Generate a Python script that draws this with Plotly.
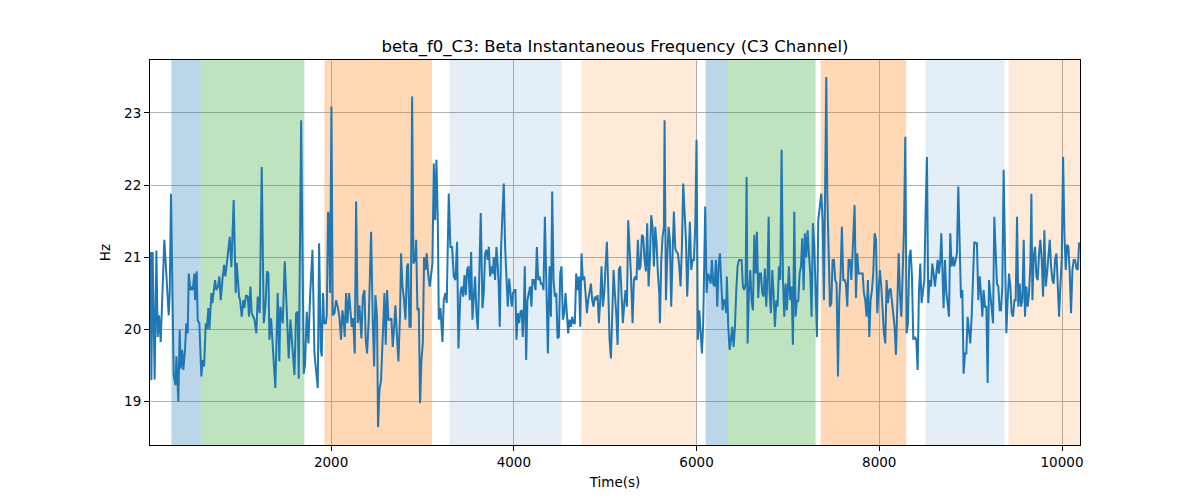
import plotly.graph_objects as go

# ---- data ----
time_s = [
    25, 33, 47, 69, 88, 102, 117, 135, 175, 212, 223, 234, 248, 277, 296, 307, 328, 343, 354, 369,
    383, 401, 416, 431, 442, 460, 474, 485, 504, 511, 529, 540, 558, 580, 595, 610, 628, 639, 657, 668,
    690, 701, 730, 745, 763, 777, 792, 814, 829, 843, 891, 909, 934, 956, 967, 993, 1004, 1022, 1040, 1051,
    1069, 1088, 1102, 1117, 1131, 1161, 1182, 1197, 1219, 1241, 1263, 1281, 1299, 1314, 1325, 1343, 1361, 1390, 1416, 1434,
    1445, 1471, 1493, 1515, 1536, 1555, 1573, 1599, 1617, 1635, 1646, 1672, 1701, 1715, 1734, 1752, 1770, 1796, 1818, 1836,
    1854, 1869, 1887, 1898, 1912, 1923, 1942, 1953, 1967, 1978, 1989, 2004, 2018, 2037, 2055, 2073, 2091,
    2109, 2124, 2138, 2149, 2164, 2179, 2197, 2211, 2226, 2241, 2259, 2274, 2292, 2310, 2332, 2347, 2365, 2379, 2394, 2412,
    2438, 2456, 2471, 2485, 2503, 2514, 2529, 2547, 2566, 2584, 2598, 2613, 2628, 2642, 2660, 2675, 2690, 2704, 2719, 2737,
    2755, 2766, 2781, 2795, 2814, 2832, 2843, 2858, 2872, 2887, 2901, 2920, 2931, 2945, 2960, 2974, 2989, 3004, 3018, 3033,
    3047, 3062, 3080, 3095, 3109, 3124, 3139, 3153, 3168, 3179,
    3197, 3219, 3233, 3251, 3266, 3288, 3306, 3324, 3343, 3361, 3379, 3394, 3416, 3430, 3445, 3460, 3474, 3489, 3503, 3518,
    3533, 3547, 3562, 3576, 3591, 3606, 3620, 3638, 3657, 3671, 3686, 3700, 3715, 3726, 3741, 3755, 3770, 3781, 3795, 3810,
    3825, 3835, 3846, 3861, 3876, 3890, 3905, 3919, 3934, 3949, 3963, 3978, 3992, 4007, 4018, 4029, 4044, 4058, 4073, 4087,
    4098, 4109, 4120, 4135, 4149, 4164, 4178, 4193, 4204, 4219,
    4238, 4252, 4267, 4282, 4296, 4311, 4325, 4340, 4355, 4373, 4391, 4406, 4420, 4435, 4449, 4464, 4479, 4493, 4508, 4522,
    4537, 4552, 4566, 4581, 4595, 4610, 4625, 4639, 4654, 4668, 4683, 4698, 4712, 4727, 4741, 4756, 4771, 4785, 4800, 4814,
    4829, 4844, 4858, 4873, 4887, 4902, 4917, 4931, 4946, 4960, 4975, 4990, 5004, 5019, 5033, 5048, 5063, 5077, 5092, 5106,
    5121, 5136, 5150, 5165, 5179, 5194, 5209, 5223, 5238, 5252,
    5281, 5300, 5314, 5329, 5343, 5358, 5373, 5387, 5402, 5416, 5431, 5446, 5460, 5475, 5489, 5504, 5519, 5533, 5548, 5562,
    5577, 5592, 5599, 5614, 5628, 5643, 5650, 5665, 5679, 5694, 5708, 5723, 5738, 5752, 5767, 5781, 5796, 5811, 5825, 5840,
    5854, 5869, 5884, 5898, 5913, 5927, 5942, 5957, 5971, 5986, 6000, 6015, 6030, 6044, 6059, 6073, 6088, 6095, 6110, 6125,
    6139, 6154, 6168, 6183, 6197, 6212, 6227, 6241, 6256, 6270, 6285, 6300,
    6310, 6325, 6332, 6347, 6362, 6376, 6391, 6405, 6420, 6435, 6449, 6464, 6478, 6493, 6508, 6522, 6537, 6548, 6559, 6573,
    6588, 6602, 6617, 6632, 6646, 6661, 6675, 6690, 6705, 6719, 6734, 6748, 6763, 6778, 6789, 6800, 6814, 6829, 6843, 6858,
    6873, 6887, 6902, 6916, 6931, 6946, 6960, 6975, 6989, 7004, 7011, 7026, 7040, 7055, 7070, 7084, 7099, 7113, 7128, 7143,
    7157, 7172, 7186, 7201, 7216, 7230, 7245, 7259, 7274, 7289, 7303, 7318, 7332,
    7365, 7380, 7394, 7409, 7420, 7431, 7445, 7460, 7475, 7489, 7504, 7518, 7533, 7548, 7562, 7577, 7591, 7606, 7621, 7635,
    7650, 7664, 7679, 7694, 7708, 7723, 7730, 7745, 7759, 7774, 7788, 7803, 7818, 7832, 7847, 7861, 7876, 7891, 7905, 7920,
    7934, 7949, 7964, 7978, 7993, 8007, 8022, 8037, 8051, 8066, 8080, 8095, 8110, 8124, 8139, 8153, 8168, 8183, 8197, 8212,
    8226, 8241, 8256, 8270, 8285, 8299, 8314, 8329, 8343, 8358, 8372,
    8390, 8405, 8420, 8434, 8449, 8463, 8478, 8493, 8507, 8522, 8536, 8551, 8566, 8580, 8595, 8609, 8624, 8639, 8653, 8668,
    8679, 8690, 8704, 8719, 8734, 8748, 8763, 8777, 8792, 8807, 8821, 8836, 8850, 8865, 8880, 8894, 8909, 8923, 8938, 8953,
    8967, 8982, 8996, 9011, 9026, 9040, 9055, 9069, 9084, 9099, 9113, 9128, 9142, 9157, 9172, 9186, 9201, 9215, 9230, 9245,
    9259, 9274, 9288, 9303, 9318, 9332, 9347, 9361, 9376, 9391, 9405, 9420,
    9435, 9449, 9464, 9479, 9493, 9508, 9522, 9537, 9552, 9566, 9581, 9595, 9610, 9625, 9639, 9654, 9665, 9676, 9690, 9705,
    9720, 9734, 9749, 9763, 9778, 9793, 9807, 9822, 9836, 9851, 9866, 9880, 9895, 9909, 9924, 9939, 9953, 9968, 9982, 9997,
    10012, 10026, 10041, 10055, 10070, 10085, 10099, 10114, 10128, 10143, 10158, 10172, 10187, 10194,
]

beta_f0_hz = [
    21.07, 19.29, 21.07, 19.30, 21.09, 19.89, 20.19, 19.82, 21.24, 20.33, 20.19, 20.50, 21.88, 19.36, 19.22, 19.62, 18.99, 19.99, 19.45, 19.71,
    19.43, 19.71, 20.08, 19.94, 20.77, 20.54, 20.59, 20.54, 20.77, 20.40, 20.80, 20.12, 20.08, 19.34, 19.57, 19.48, 20.08, 19.99, 20.29, 19.99,
    20.50, 20.36, 20.68, 20.54, 20.59, 20.73, 20.40, 20.73, 20.89, 20.73, 21.28, 20.86, 21.79, 20.50, 20.92, 20.45, 20.40, 20.17, 20.40, 20.29,
    20.47, 20.45, 20.17, 20.59, 20.22, 20.13, 19.94, 20.45, 20.22, 22.25, 20.08, 20.31, 20.80, 20.77, 19.85, 20.15, 19.71, 19.18, 20.50, 19.55,
    20.31, 20.08, 20.94, 20.22, 19.59, 20.13, 19.75, 19.36, 20.22, 20.24, 19.31, 22.90, 19.38, 19.52, 20.24, 19.80, 20.45, 21.10, 19.66, 19.43,
    19.18, 21.19, 19.71, 19.62, 20.50, 20.08, 20.08, 20.19, 21.63, 21.56, 20.50, 23.09, 20.19, 20.22, 20.40, 20.31, 20.17,
    19.85, 20.26, 20.13, 19.89, 20.50, 20.08, 20.50, 20.31, 20.03, 20.15, 19.66, 21.77, 20.08, 20.33, 19.87, 20.45, 20.54, 19.85, 19.66, 20.13,
    21.35, 20.13, 19.48, 20.47, 20.17, 18.64, 19.15, 19.29, 19.94, 20.50, 19.78, 20.54, 20.13, 20.13, 20.15, 19.75, 20.03, 20.33, 19.94, 19.55,
    20.22, 21.05, 20.59, 20.45, 20.13, 20.87, 20.91, 20.03, 20.03, 23.23, 20.91, 20.96, 21.24, 20.26, 20.29, 18.97, 19.57, 19.80, 21.00, 20.82,
    21.05, 20.77, 20.59, 20.82, 20.91, 22.30, 21.51, 22.35, 21.51, 20.13,
    20.29, 19.82, 20.40, 20.50, 20.36, 21.88, 21.14, 21.14, 20.73, 20.68, 21.21, 19.73, 20.50, 20.59, 20.45, 20.75, 20.47, 20.82, 20.87, 20.40,
    21.07, 20.13, 20.40, 20.73, 20.22, 19.99, 20.63, 21.61, 20.29, 20.50, 21.05, 21.10, 20.96, 21.14, 20.73, 20.87, 20.77, 21.00, 20.68, 21.14,
    20.87, 20.59, 20.03, 21.14, 21.61, 22.02, 21.14, 20.77, 20.31, 20.70, 20.50, 20.31, 20.50, 20.54, 20.54, 19.85, 20.22, 20.08, 20.24, 20.26,
    19.89, 20.22, 20.87, 19.57, 20.40, 20.50, 20.59, 20.31, 20.68, 20.68,
    20.54, 21.14, 20.68, 20.73, 20.63, 20.63, 20.54, 21.56, 20.54, 19.66, 20.87, 20.17, 21.91, 20.68, 20.45, 20.50, 19.87, 19.89, 20.77, 20.87,
    20.13, 20.22, 20.50, 20.22, 19.94, 20.13, 20.03, 20.17, 20.08, 20.08, 20.77, 20.54, 20.73, 20.03, 21.05, 20.68, 20.73, 20.50, 20.22, 20.40,
    20.50, 20.63, 20.40, 20.31, 20.45, 20.40, 20.47, 20.08, 20.40, 20.87, 20.31, 20.50, 20.87, 21.21, 20.59, 19.85, 19.59, 20.22, 20.82, 20.50,
    20.22, 19.78, 20.82, 20.87, 20.40, 20.08, 20.36, 20.54, 20.31, 21.51,
    20.78, 20.08, 20.68, 20.73, 20.68, 21.24, 20.82, 20.87, 21.31, 21.28, 20.96, 20.80, 21.47, 20.59, 20.96, 21.58, 21.42, 20.87, 21.42, 21.19,
    20.77, 20.50, 20.08, 20.96, 21.28, 21.42, 22.90, 20.40, 20.96, 21.42, 21.24, 20.31, 21.05, 21.63, 21.12, 21.07, 21.05, 20.87, 20.59, 21.14,
    22.02, 21.51, 21.24, 20.45, 20.96, 21.49, 20.82, 20.96, 20.96, 21.42, 22.63, 19.85, 20.26, 19.89, 19.66, 20.08, 20.96, 21.70, 20.50, 20.77,
    20.73, 20.63, 20.96, 20.63, 20.59, 20.96, 20.31, 20.87, 21.05, 20.59, 20.26, 20.40,
    20.40, 20.22, 20.73, 20.03, 19.71, 19.85, 20.03, 19.75, 20.03, 20.54, 20.87, 20.96, 20.96, 20.96, 20.59, 20.54, 20.63, 22.11, 19.80, 20.50,
    20.82, 20.40, 20.26, 21.31, 20.77, 21.35, 20.43, 20.77, 20.77, 20.50, 20.45, 20.84, 20.31, 20.77, 21.56, 20.50, 20.22, 20.82, 20.50, 20.03,
    20.40, 20.31, 20.87, 20.68, 22.49, 20.68, 20.17, 20.63, 20.26, 20.63, 20.87, 20.40, 20.59, 19.78, 21.63, 20.17, 20.40, 20.38, 20.77, 20.87,
    21.26, 20.54, 21.33, 21.00, 21.37, 21.05, 20.77, 20.17, 21.47, 21.14, 20.59, 19.89, 21.51,
    21.88, 21.51, 20.40, 22.16, 23.50, 21.88, 21.05, 20.31, 20.36, 20.96, 20.96, 20.68, 20.63, 19.34, 20.40, 20.77, 21.42, 20.68, 20.68, 20.63,
    20.31, 20.96, 20.96, 20.68, 21.05, 21.42, 21.72, 20.43, 21.05, 20.77, 20.77, 20.77, 20.77, 20.50, 20.40, 20.17, 20.68, 19.89, 20.40, 20.54,
    20.77, 21.33, 21.24, 20.22, 20.59, 20.82, 20.59, 20.26, 19.94, 19.80, 20.68, 20.36, 20.54, 20.56, 20.40, 20.17, 20.03, 19.64, 20.50, 21.05,
    20.50, 20.17, 20.77, 21.37, 22.67, 19.94, 20.08, 21.00, 21.10, 20.73, 19.85,
    19.89, 19.85, 19.43, 20.50, 20.91, 20.36, 20.54, 20.68, 21.61, 22.39, 20.36, 20.68, 20.59, 20.91, 20.77, 20.59, 20.77, 20.96, 20.77, 20.96,
    21.33, 20.77, 20.29, 20.96, 20.50, 20.36, 20.17, 21.33, 20.87, 21.00, 20.87, 20.96, 21.05, 21.98, 21.05, 20.43, 20.54, 19.38, 19.66, 19.66,
    20.17, 19.94, 19.80, 20.17, 20.77, 21.21, 21.19, 21.19, 20.40, 20.73, 20.50, 20.17, 20.54, 20.31, 20.31, 19.25, 20.68, 20.50, 20.31, 20.08,
    21.56, 21.00, 20.63, 20.59, 20.26, 20.26, 20.59, 22.21, 21.10, 19.94, 20.40, 20.77,
    20.59, 20.22, 20.17, 20.40, 20.40, 21.56, 20.31, 20.63, 20.31, 20.40, 21.24, 20.17, 20.59, 20.31, 20.50, 20.91, 21.88, 20.40, 21.00, 21.14,
    20.73, 20.68, 21.05, 21.24, 20.96, 20.45, 21.37, 20.59, 20.77, 20.96, 21.24, 20.87, 20.68, 20.63, 20.96, 21.05, 20.50, 20.17, 20.59, 20.96,
    22.39, 21.33, 20.82, 21.17, 21.14, 20.77, 20.22, 20.82, 20.96, 20.96, 20.84, 20.82, 21.19, 21.19,
]

span_starts = [252, 577, 1927, 3296, 4741, 6099, 6343, 7358, 8507, 9416]
span_ends = [577, 1708, 3106, 4522, 5995, 6343, 7303, 8296, 9372, 10400]
span_colors = ["rgba(31,119,180,0.3)", "rgba(44,160,44,0.3)", "rgba(255,127,14,0.3)",
               "rgba(31,119,180,0.12)", "rgba(255,127,14,0.16)",
               "rgba(31,119,180,0.3)", "rgba(44,160,44,0.3)", "rgba(255,127,14,0.3)",
               "rgba(31,119,180,0.12)", "rgba(255,127,14,0.16)"]

x_ticks = [2000, 4000, 6000, 8000, 10000]
y_ticks = [19, 20, 21, 22, 23]
x_range = [18, 10197]
y_range = [18.389, 23.736]

fig = go.Figure()

# shaded spans drawn as filled traces so the grid stays visible above them
for s, e, c in zip(span_starts, span_ends, span_colors):
    fig.add_trace(go.Scatter(
        x=[s, s, e, e, s], y=[y_range[0] - 1, y_range[1] + 1, y_range[1] + 1, y_range[0] - 1, y_range[0] - 1],
        mode="lines", fill="toself", fillcolor=c, line=dict(width=0),
        hoverinfo="skip", showlegend=False))

fig.add_trace(go.Scatter(x=time_s, y=beta_f0_hz, mode="lines",
                         line=dict(color="#1f77b4", width=2), showlegend=False))

axis_common = dict(showline=True, linecolor="black", linewidth=1, mirror=True,
                   ticks="outside", ticklen=5, tickcolor="black",
                   showgrid=True, gridcolor="#b0b0b0", gridwidth=0.8,
                   zeroline=False, tickfont=dict(size=13.5, color="black"))

fig.update_xaxes(range=x_range, tickvals=x_ticks, ticktext=[str(v) for v in x_ticks],
                 title=dict(text="Time(s)", font=dict(size=13.5, color="black"), standoff=8),
                 **axis_common)
fig.update_yaxes(range=y_range, tickvals=y_ticks, ticktext=[str(v) for v in y_ticks],
                 title=dict(text="Hz", font=dict(size=13.5, color="black"), standoff=10),
                 **axis_common)

fig.update_layout(
    width=1200, height=500,
    margin=dict(l=150, r=120, t=60, b=55),
    paper_bgcolor="white", plot_bgcolor="white",
    font=dict(family="DejaVu Sans", color="black"),
    title=dict(text="beta_f0_C3: Beta Instantaneous Frequency (C3 Channel)",
               x=0.5125, xanchor="center", y=0.908, yanchor="middle",
               font=dict(size=16.5, color="black")),
)

fig.write_html("out.html", config={"displayModeBar": False},
               post_script="document.body.style.margin='0';")
